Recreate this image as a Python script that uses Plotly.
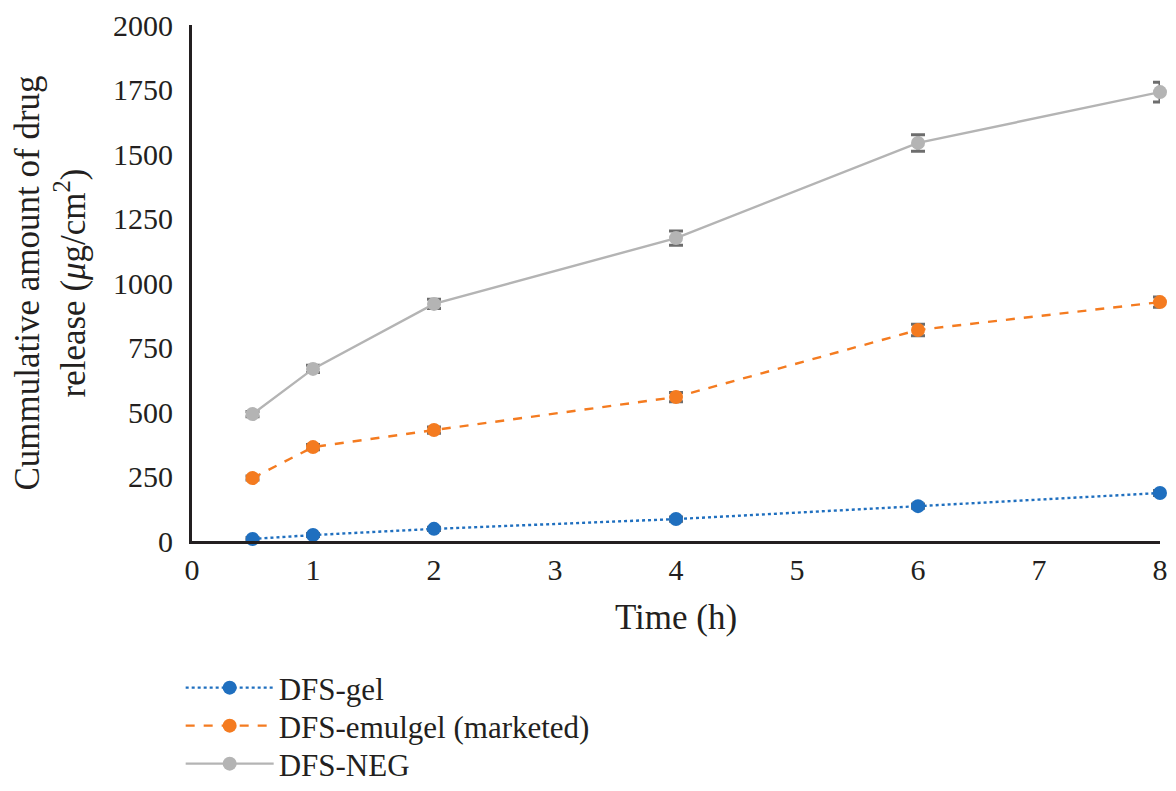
import plotly.graph_objects as go

time_h = [0.5, 1, 2, 4, 6, 8]
dfs_gel = [8, 23, 47, 85, 135, 186]
dfs_gel_err = [6, 6, 6, 8, 8, 10]
dfs_emulgel = [244, 364, 430, 558, 818, 926]
dfs_emulgel_err = [8, 10, 12, 18, 22, 20]
dfs_neg = [492, 667, 919, 1174, 1543, 1740]
dfs_neg_err = [10, 14, 18, 28, 32, 38]

series_names = ["DFS-gel", "DFS-emulgel (marketed)", "DFS-NEG"]
colors = ["#1f6fbf", "#f47b20", "#b4b4b4"]
dashes = ["dot", "dash", "solid"]
legend_ids = ["legend", "legend2", "legend3"]
legend_y = [-0.2849, -0.3585, -0.4322]

font_family = "Liberation Serif, DejaVu Serif, serif"

fig = go.Figure()
for name, ys, err, col, dash, lid in zip(series_names,
                                         [dfs_gel, dfs_emulgel, dfs_neg],
                                         [dfs_gel_err, dfs_emulgel_err, dfs_neg_err],
                                         colors, dashes, legend_ids):
    fig.add_trace(go.Scatter(
        x=time_h, y=ys, name=name, mode="lines+markers",
        line=dict(color=col, width=2.4, dash=dash),
        marker=dict(color=col, size=14, symbol="circle"),
        error_y=dict(type="data", array=err, visible=True, color="#6d6d6d",
                     thickness=3, width=7),
        cliponaxis=False, legend=lid,
    ))

legend_common = dict(orientation="v", x=-0.0117, xanchor="left", yanchor="middle",
                     font=dict(size=31, family=font_family, color="#231f20"),
                     itemwidth=88, bgcolor="rgba(0,0,0,0)")

fig.update_layout(
    width=1160, height=775,
    margin=dict(l=184, r=8, t=17, b=242, autoexpand=False),
    plot_bgcolor="white", paper_bgcolor="white",
    font=dict(family=font_family, size=30, color="#231f20"),
    showlegend=True,
    legend=dict(y=legend_y[0], **legend_common),
    legend2=dict(y=legend_y[1], **legend_common),
    legend3=dict(y=legend_y[2], **legend_common),
    xaxis=dict(range=[0, 8], tickvals=[0, 1, 2, 3, 4, 5, 6, 7, 8],
               showgrid=False, zeroline=False, showline=True, linecolor="#231f20",
               linewidth=3, ticks="", tickfont=dict(size=30), automargin=False,
               title=dict(text="Time (h)", font=dict(size=35), standoff=20)),
    yaxis=dict(range=[0, 2000], tickvals=[0, 250, 500, 750, 1000, 1250, 1500, 1750, 2000],
               showgrid=False, zeroline=False, showline=True, linecolor="#231f20",
               linewidth=3, ticks="", tickfont=dict(size=30), automargin=False,
               ticklabelstandoff=10,
               title=dict(text="Cummulative amount of drug<br>release (<i>μ</i>g/cm<sup>2</sup>)",
                          font=dict(size=35), standoff=34)),
)

fig.write_html("out.html")
